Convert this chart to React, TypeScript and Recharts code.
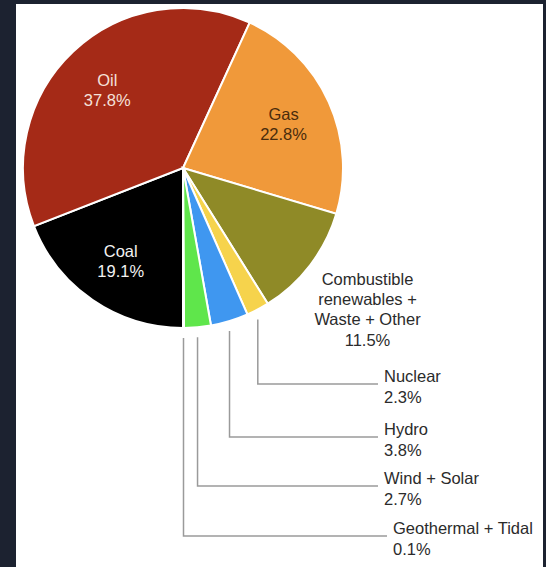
import { PieChart, Pie, Cell } from "recharts";

const sources = [
  "Coal",
  "Oil",
  "Gas",
  "Combustible\nrenewables +\nWaste + Other",
  "Nuclear",
  "Hydro",
  "Wind + Solar",
  "Geothermal + Tidal",
];
const shares = [19.1, 37.8, 22.8, 11.5, 2.3, 3.8, 2.7, 0.1];

const sliceColors = ["#000000", "#a52a17", "#f0993a", "#8f8a27", "#f6d34c", "#3f97f0", "#5fe64b", "#d8d8d8"];
const innerTextColors = ["#f2f2f2", "#f5e1da", "#4a2c0c"];

const data = sources.map((name, i) => ({ name, value: shares[i] }));

const RADIAN = Math.PI / 180;
const FONT = '"Liberation Sans", Arial, sans-serif';
// vertical drop of each leader row below the pie centre
const ROW_DROP = [216, 269, 318, 368];

const renderLabel = (props: any) => {
  const { cx, cy, midAngle, outerRadius, index, value, name } = props;
  const cos = Math.cos(-midAngle * RADIAN);
  const sin = Math.sin(-midAngle * RADIAN);
  const pct = `${Number(value).toFixed(1)}%`;

  // big slices: label inside
  if (index < 3) {
    const r = outerRadius * 0.69;
    const x = cx + r * cos;
    const y = cy + r * sin + 2;
    return (
      <text x={x} y={y} textAnchor="middle" fill={innerTextColors[index]} fontFamily={FONT} fontSize={16.5}>
        <tspan x={x} dy={-4}>{name}</tspan>
        <tspan x={x} dy={20}>{pct}</tspan>
      </text>
    );
  }

  // combustible: free label outside
  if (index === 3) {
    const r = outerRadius * 1.45;
    const x = cx + r * cos;
    const y = cy + r * sin;
    const lines = String(name).split("\n");
    return (
      <text x={x} y={y} textAnchor="middle" fill="#2b2b2b" fontFamily={FONT} fontSize={16.5}>
        {lines.map((l, k) => (
          <tspan key={k} x={x} dy={k === 0 ? -24 : 20.3}>{l}</tspan>
        ))}
        <tspan x={x} dy={20.3}>{pct}</tspan>
      </text>
    );
  }

  // small slices: elbow leader lines down then right
  const k = index - 4;
  const sx = cx + outerRadius * cos;
  const sy = cy + outerRadius * sin + 10;
  const rowY = cy + ROW_DROP[k];
  const endX = cx + 195 + (index === 7 ? 9 : 0);
  const tx = endX + 6;
  return (
    <g>
      <polyline points={`${sx},${sy} ${sx},${rowY} ${endX},${rowY}`} fill="none" stroke="#9a9a9a" strokeWidth={1.5} />
      <text x={tx} y={rowY} fill="#2b2b2b" fontFamily={FONT} fontSize={16.5}>
        <tspan x={tx} dy={-2}>{name}</tspan>
        <tspan x={tx} dy={21}>{pct}</tspan>
      </text>
    </g>
  );
};

export default function App() {
  return (
    <div style={{ position: "absolute", left: 0, top: 0, width: 546, height: 567, background: "#1c2230" }}>
      <div style={{ position: "absolute", left: 16, top: 4, width: 527, height: 563, background: "#ffffff" }} />
      <div style={{ position: "absolute", left: 0, top: 0 }}>
        <PieChart width={546} height={567} margin={{ top: 0, right: 0, bottom: 0, left: 0 }}>
          <Pie
            data={data}
            dataKey="value"
            nameKey="name"
            cx={183}
            cy={168}
            outerRadius={160}
            startAngle={270}
            endAngle={-90}
            stroke="#ffffff"
            strokeWidth={2}
            label={renderLabel}
            labelLine={false}
            isAnimationActive={false}
          >
            {data.map((d, i) => (
              <Cell key={d.name} fill={sliceColors[i]} />
            ))}
          </Pie>
        </PieChart>
      </div>
    </div>
  );
}
